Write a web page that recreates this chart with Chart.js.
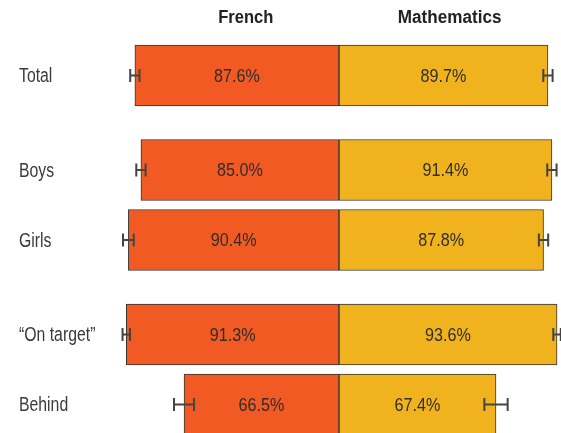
<!DOCTYPE html>
<html>
<head>
<meta charset="utf-8">
<script src="https://cdn.jsdelivr.net/npm/chart.js@4.4.1/dist/chart.umd.min.js"></script>
<style>
  html, body { margin: 0; padding: 0; background: #fff; }
  #wrap { width: 561px; height: 433px; position: relative; }
</style>
</head>
<body>
<div id="wrap"><canvas id="chart"></canvas></div>
<script>
const categories = ["Total", "Boys", "Girls", "\u201COn target\u201D", "Behind"];
const groups = [0, 1, 1, 2, 2];
const french = [87.6, 85.0, 90.4, 91.3, 66.5];
const maths = [89.7, 91.4, 87.8, 93.6, 67.4];
const frenchErr = [2.0, 2.0, 2.3, 1.6, 4.3];
const mathsErr = [2.0, 2.0, 2.0, 1.6, 5.0];
const subjects = ["French", "Mathematics"];

const FONT = "'Liberation Sans', Arial, sans-serif";
const GROUP_GAP = 0.35;
const rowPos = categories.map((c, i) => i + GROUP_GAP * groups[i]);

// condensed text: the reference uses a narrow face, so squeeze a regular one
function narrowText(ctx, text, x, y, sx, align) {
  ctx.save();
  ctx.translate(x, y);
  ctx.scale(sx, 1);
  ctx.textAlign = align;
  ctx.fillText(text, 0, 0);
  ctx.restore();
}

const overlay = {
  id: "overlay",
  afterDatasetsDraw(chart) {
    const ctx = chart.ctx;
    const xs = chart.scales.x;
    const ys = chart.scales.y;
    const errs = [frenchErr, mathsErr];
    ctx.save();
    // error bars
    ctx.strokeStyle = "#444";
    ctx.lineWidth = 2;
    chart.data.datasets.forEach((ds, d) => {
      chart.getDatasetMeta(d).data.forEach((bar, i) => {
        const v = ds.data[i].x;
        const e = errs[d][i];
        const x1 = xs.getPixelForValue(v - e);
        const x2 = xs.getPixelForValue(v + e);
        const y = bar.y;
        ctx.beginPath();
        ctx.moveTo(x1, y); ctx.lineTo(x2, y);
        ctx.moveTo(x1, y - 6.5); ctx.lineTo(x1, y + 6.5);
        ctx.moveTo(x2, y - 6.5); ctx.lineTo(x2, y + 6.5);
        ctx.stroke();
      });
    });
    ctx.textBaseline = "middle";
    // value labels
    ctx.fillStyle = "#2e2e2e";
    ctx.font = "19px " + FONT;
    chart.data.datasets.forEach((ds, d) => {
      chart.getDatasetMeta(d).data.forEach((bar, i) => {
        const v = Math.abs(ds.data[i].x);
        narrowText(ctx, v.toFixed(1) + "%", (bar.x + bar.base) / 2, bar.y + 1, 0.85, "center");
      });
    });
    // category labels
    ctx.font = "20px " + FONT;
    ctx.fillStyle = "#3a3a3a";
    categories.forEach((c, i) => {
      narrowText(ctx, c, 19, ys.getPixelForValue(rowPos[i]) + 1, 0.79, "left");
    });
    // column headings
    ctx.font = "bold 18px " + FONT;
    ctx.fillStyle = "#222";
    narrowText(ctx, subjects[0], xs.getPixelForValue(-40), 18, 0.92, "center");
    narrowText(ctx, subjects[1], xs.getPixelForValue(47.5), 18, 0.95, "center");
    ctx.restore();
  }
};

new Chart(document.getElementById("chart"), {
  type: "bar",
  data: {
    datasets: [
      {
        label: subjects[0],
        data: french.map((v, i) => ({ x: -v, y: rowPos[i] })),
        backgroundColor: "#F15A22",
        borderColor: "#333",
        borderWidth: 1,
        borderSkipped: false,
        barThickness: 61,
        grouped: false
      },
      {
        label: subjects[1],
        data: maths.map((v, i) => ({ x: v, y: rowPos[i] })),
        backgroundColor: "#F0B31E",
        borderColor: "#333",
        borderWidth: 1,
        borderSkipped: false,
        barThickness: 61,
        grouped: false
      }
    ]
  },
  options: {
    indexAxis: "y",
    responsive: true,
    maintainAspectRatio: false,
    animation: false,
    layout: { padding: { left: 106, right: 0, top: 0, bottom: 0 } },
    plugins: { legend: { display: false }, tooltip: { enabled: false } },
    scales: {
      x: {
        type: "linear",
        min: -100,
        max: 95.3,
        display: false
      },
      y: {
        type: "linear",
        reverse: true,
        offset: false,
        min: -1.079,
        max: 5.107,
        display: false
      }
    }
  },
  plugins: [overlay]
});
</script>
</body>
</html>
